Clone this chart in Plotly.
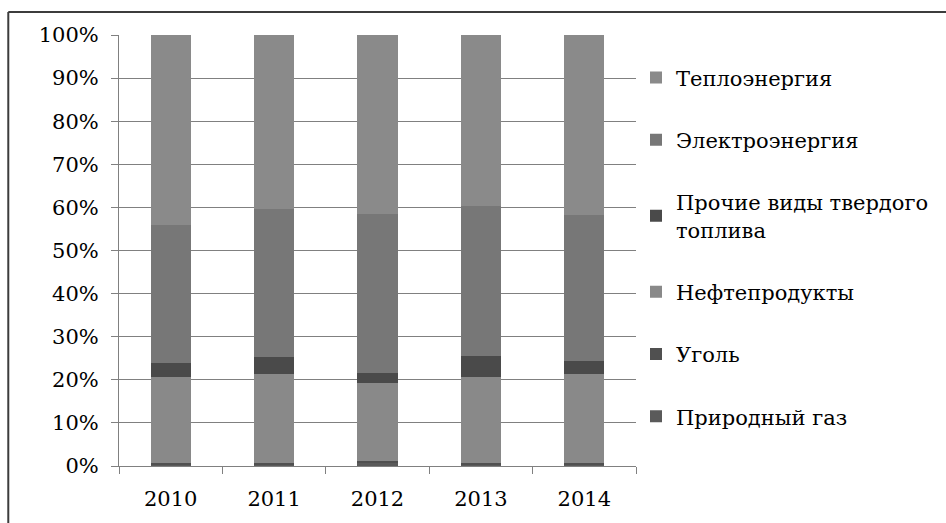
import plotly.graph_objects as go

years = ["2010", "2011", "2012", "2013", "2014"]

gas = [0.35, 0.35, 0.6, 0.35, 0.35]
coal = [0.3, 0.3, 0.55, 0.3, 0.3]
oil = [20.05, 20.65, 18.15, 20.05, 20.65]
other_solid = [3.2, 4.0, 2.3, 4.8, 3.1]
electricity = [32.0, 34.3, 36.9, 34.8, 33.8]
heat = [44.1, 40.4, 41.5, 39.7, 41.8]

series = [
    ("Природный газ", gas, "#5a5a5a"),
    ("Уголь", coal, "#505050"),
    ("Нефтепродукты", oil, "#898989"),
    ("Прочие виды твердого<br>топлива", other_solid, "#4a4a4a"),
    ("Электроэнергия", electricity, "#777777"),
    ("Теплоэнергия", heat, "#8a8a8a"),
]

FONT = "DejaVu Serif"

fig = go.Figure()
n = len(series)
for i, (name, vals, col) in enumerate(series):
    fig.add_trace(go.Bar(x=years, y=vals, name=name, marker_color=col,
                         marker_line_width=0, legendgroup=str(i),
                         legendrank=n - i))

fig.update_layout(
    width=946, height=523,
    barmode="stack", bargap=0.61,
    plot_bgcolor="white", paper_bgcolor="white",
    margin=dict(l=119, r=304, t=35, b=57),
    font=dict(family=FONT, size=21, color="black"),
    showlegend=True,
    legend=dict(traceorder="grouped", tracegroupgap=32,
                x=1.0, xanchor="left", y=0.948, yanchor="top",
                font=dict(family=FONT, size=21, color="black"),
                bgcolor="rgba(0,0,0,0)", itemwidth=30),
)
fig.update_yaxes(range=[0, 100], dtick=10, ticksuffix="%",
                 showgrid=True, gridcolor="#808080", gridwidth=1,
                 showline=True, linecolor="#808080", linewidth=1,
                 ticks="outside", ticklen=7, tickcolor="#808080",
                 zeroline=False, ticklabelstandoff=8,
                 tickfont=dict(family=FONT, size=21, color="black"))
fig.update_xaxes(showline=True, linecolor="#808080", linewidth=1,
                 ticks="outside", ticklen=7, tickcolor="#808080",
                 tickson="boundaries", showgrid=False,
                 ticklabelstandoff=14,
                 tickfont=dict(family=FONT, size=21, color="black"))

# outer frame (left and top borders of the picture)
fig.add_shape(type="line", xref="paper", yref="paper",
              x0=(7 - 119) / 523, x1=(946 - 119) / 523 + 0.05,
              y0=(466 - 12) / 431, y1=(466 - 12) / 431,
              line=dict(color="#3c3c3c", width=2))
fig.add_shape(type="line", xref="paper", yref="paper",
              x0=(7 - 119) / 523, x1=(7 - 119) / 523,
              y0=(466 - 12) / 431, y1=(466 - 530) / 431,
              line=dict(color="#3c3c3c", width=2))

fig.write_html("out.html", config={"displayModeBar": False},
               post_script="document.body.style.margin='0';")
